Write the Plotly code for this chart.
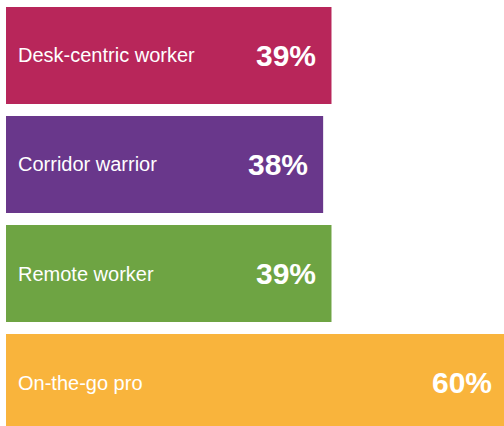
import plotly.graph_objects as go

categories = ["Desk-centric worker", "Corridor warrior", "Remote worker", "On-the-go pro"]
values = [39, 38, 39, 60]
value_labels = ["39%", "38%", "39%", "60%"]
colors = ["#B8265A", "#69378B", "#6EA443", "#F9B43C"]

positions = list(range(len(categories)))
x_range = [-0.72, 59.67]

fig = go.Figure()
fig.add_trace(go.Bar(
    x=values,
    y=positions,
    orientation="h",
    width=0.89,
    marker=dict(color=colors, line=dict(width=0)),
    hoverinfo="skip",
))

for i, (cat, val, lab) in enumerate(zip(categories, values, value_labels)):
    fig.add_annotation(
        x=0, y=i, text=cat, showarrow=False,
        xanchor="left", yanchor="middle", xshift=10,
        font=dict(family="Liberation Sans, Arial, sans-serif", size=20, color="white"),
    )
    # value label anchored at the bar end (paper coords so it stays visible when the bar is clipped)
    fig.add_annotation(
        x=(val - x_range[0]) / (x_range[1] - x_range[0]), xref="paper",
        y=i, yref="y", text="<b>" + lab + "</b>", showarrow=False,
        xanchor="right", yanchor="middle", xshift=-13,
        font=dict(family="Liberation Sans, Arial, sans-serif", size=30, color="white"),
    )

fig.update_layout(
    width=504, height=426,
    margin=dict(l=0, r=0, t=0, b=0),
    paper_bgcolor="white", plot_bgcolor="white",
    showlegend=False,
    hovermode=False,
    xaxis=dict(range=x_range, visible=False, fixedrange=True),
    yaxis=dict(range=[3.399, -0.509], visible=False, fixedrange=True),
)

fig.write_html("out.html", config={"displayModeBar": False, "staticPlot": True},
               post_script="document.body.style.margin='0px';")
